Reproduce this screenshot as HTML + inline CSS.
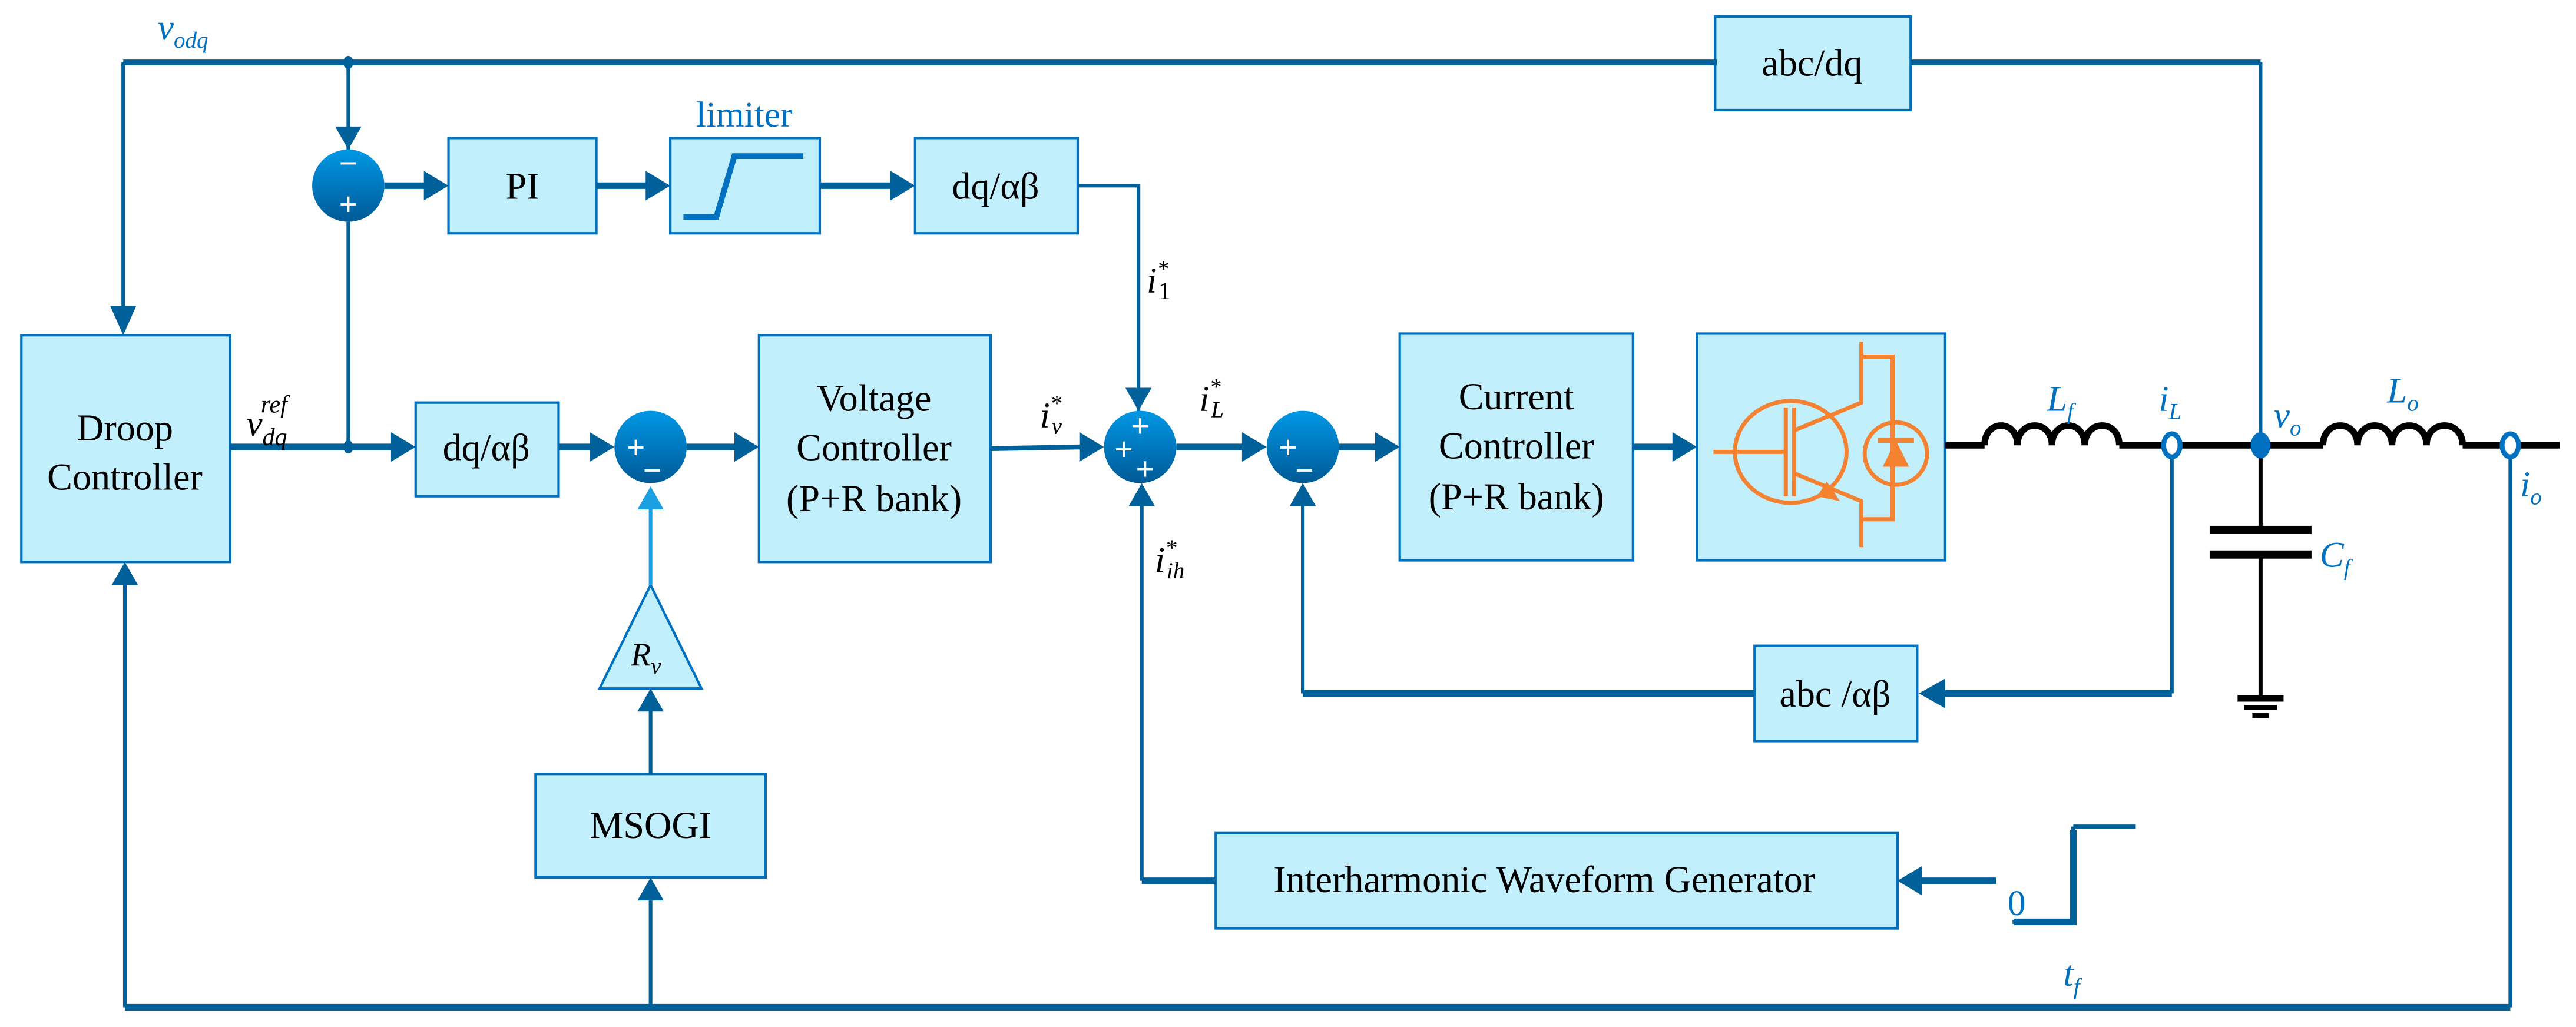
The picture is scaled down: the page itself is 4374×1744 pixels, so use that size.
<!DOCTYPE html>
<html><head><meta charset="utf-8"><style>
html,body{margin:0;padding:0;background:#fff;}
svg{display:block;}
text{font-family:"Liberation Serif",serif;}
</style></head><body>
<svg width="4374" height="1744" viewBox="0 0 1568 625" preserveAspectRatio="none" xmlns="http://www.w3.org/2000/svg">
<defs>
<linearGradient id="g" x1="0" y1="0" x2="0" y2="1"><stop offset="0" stop-color="#0098e6"/><stop offset="1" stop-color="#005a96"/></linearGradient>
</defs>
<g fill="#c1effc" stroke="#0070c0" stroke-width="1.5">
<rect x="13" y="204" width="127" height="138"/>
<rect x="273" y="84" width="90" height="58"/>
<rect x="408" y="84" width="91" height="58"/>
<rect x="557" y="84" width="99" height="58"/>
<rect x="1044" y="10" width="119" height="57"/>
<rect x="253" y="245" width="87" height="57"/>
<rect x="462" y="204" width="141" height="138"/>
<rect x="852" y="203" width="142" height="138"/>
<rect x="1033" y="203" width="151" height="138"/>
<rect x="1068" y="393" width="99" height="58"/>
<rect x="740" y="507" width="415" height="58"/>
<rect x="326" y="471" width="140" height="63"/>
<polygon points="365,419 427,419 396,356"/>
</g>
<path d="M416,132 H436 L447,95 H489" fill="none" stroke="#0070c0" stroke-width="3.5"/>
<g fill="none" stroke="#00619a">
<path d="M75,38 H1045 M1163,38 H1376" stroke-width="3.5"/>
<path d="M1376,38 V271 M75,38 V190 M212,38 V93 M656,113 H693 V252 M212,135 V272" stroke-width="2.2"/>
<path d="M234,113 H260 M363,113 H395 M499,113 H544 M140,272 H240 M340,272 H361 M418,272 H449 M716,272 H758 M815,272 H839 M994,272 H1020" stroke-width="4"/>
<path d="M603,273 L659,272" stroke-width="3"/>
<path d="M1322,277 V422 M793,422 V308 M695,536 V308 M396,471 V432 M1528,277 V613 M76,613 V356 M396,613 V548" stroke-width="2.2"/>
<path d="M1322,422 H1182 M1068,422 H793 M695,536 H740 M1215,536 H1170 M76,613 H1528" stroke-width="4"/>
</g>
<path d="M396,356 V310" stroke="#1ba1e2" stroke-width="2.2"/>
<g fill="#00619a">
<polygon points="67,186 75,204 83,186"/>
<polygon points="204,77 212,91 220,77"/>
<polygon points="258,104 273,113 258,122"/>
<polygon points="393,104 408,113 393,122"/>
<polygon points="542,104 557,113 542,122"/>
<polygon points="685,236 693,250 701,236"/>
<polygon points="238,263 253,272 238,281"/>
<polygon points="359,263 374,272 359,281"/>
<polygon points="447,263 462,272 447,281"/>
<polygon points="657,263 672,272 657,281"/>
<polygon points="756,263 771,272 756,281"/>
<polygon points="837,263 852,272 837,281"/>
<polygon points="1018,263 1033,272 1018,281"/>
<polygon points="1184,413 1168,422 1184,431"/>
<polygon points="785,308 793,294 801,308"/>
<polygon points="687,308 695,294 703,308"/>
<polygon points="1170,527 1155,536 1170,545"/>
<polygon points="388,433 396,419 404,433"/>
<polygon points="68,356 76,342 84,356"/>
<polygon points="388,548 396,534 404,548"/>
<ellipse cx="212" cy="38" rx="3" ry="4"/>
<ellipse cx="212" cy="272" rx="3" ry="4"/>
</g>
<polygon points="388,310 396,296 404,310" fill="#1ba1e2"/>
<g fill="url(#g)">
<circle cx="212" cy="113" r="22"/>
<circle cx="396" cy="272" r="22"/>
<circle cx="694" cy="272" r="22"/>
<circle cx="793" cy="272" r="22"/>
</g>
<g fill="#fff" font-family="Liberation Sans,sans-serif" font-size="20" font-weight="bold" text-anchor="middle">
<text x="212" y="106">−</text><text x="212" y="131">+</text>
<text x="387" y="279">+</text><text x="397" y="293">−</text>
<text x="694" y="266">+</text><text x="684" y="280">+</text><text x="697" y="292">+</text>
<text x="784" y="279">+</text><text x="794" y="293">−</text>
</g>
<g fill="none" stroke="#000" stroke-width="4">
<path d="M1184,271 H1208 M1290,271 H1414 M1499,271 H1558"/>
<path d="M1208,271 C1208,255 1228,255 1228,271 C1228,255 1249,255 1249,271 C1249,255 1269,255 1269,271 C1269,255 1290,255 1290,271"/>
<path d="M1414,271 C1414,255 1435,255 1435,271 C1435,255 1456,255 1456,271 C1456,255 1477,255 1477,271 C1477,255 1499,255 1499,271"/>
<path d="M1376,271 V321 M1376,339 V423" stroke-width="2.5"/>
</g>
<g fill="#000">
<rect x="1345" y="320" width="62" height="5"/>
<rect x="1345" y="335" width="62" height="5"/>
<rect x="1362" y="423" width="28" height="4"/>
<rect x="1366" y="429" width="20" height="3"/>
<rect x="1371" y="434" width="10" height="3"/>
</g>
<ellipse cx="1322" cy="271" rx="5" ry="7" fill="#fff" stroke="#0070c0" stroke-width="3"/>
<ellipse cx="1528" cy="271" rx="5" ry="7" fill="#fff" stroke="#0070c0" stroke-width="3"/>
<ellipse cx="1376" cy="271" rx="6" ry="8" fill="#0070c0"/>
<g fill="none" stroke="#f58231" stroke-width="2.5">
<ellipse cx="1090" cy="275" rx="34" ry="31"/>
<ellipse cx="1154" cy="276" rx="19" ry="19"/>
<path d="M1043,275 H1086 M1087,248 V302 M1092,248 V302 M1092,262 L1133,245 V208 M1092,288 L1133,305 V333 M1133,217 H1152 V296 M1133,316 H1152 V296"/>
<path d="M1143,268 H1165" stroke-width="3"/>
</g>
<polygon points="1154,268 1146,284 1162,284" fill="#f58231"/>
<polygon points="1112,293 1120,305 1106,302" fill="#f58231"/>
<path d="M1262,503 H1300 M1262,503 V561 H1225" fill="none" stroke="#00619a" stroke-width="2.5"/>
<path d="M1262,505 V561 H1226" fill="none" stroke="#00619a" stroke-width="4"/>
<g font-size="23" fill="#000" text-anchor="middle">
<text x="76" y="268">Droop</text><text x="76" y="298">Controller</text>
<text x="318" y="121">PI</text>
<text x="606" y="121">dq/αβ</text>
<text x="296" y="280">dq/αβ</text>
<text x="1103" y="46">abc/dq</text>
<text x="532" y="250">Voltage</text><text x="532" y="280">Controller</text><text x="532" y="311">(P+R bank)</text>
<text x="923" y="249">Current</text><text x="923" y="279">Controller</text><text x="923" y="310">(P+R bank)</text>
<text x="1117" y="430">abc /αβ</text>
<text x="940" y="543">Interharmonic Waveform Generator</text>
<text x="396" y="510">MSOGI</text>
</g>
<g font-style="italic" font-size="22" fill="#000">
<text x="384" y="405" font-size="20">R<tspan font-size="14" dy="5">v</tspan></text>
<text x="150" y="265">v<tspan font-size="15" dy="6">dq</tspan><tspan font-size="15" dx="-16" dy="-20">ref</tspan></text>
<text x="698" y="178">i<tspan font-size="14" dy="-10">*</tspan><tspan font-size="15" dx="-6" dy="14" font-style="normal">1</tspan></text>
<text x="633" y="260">i<tspan font-size="14" dy="-10">*</tspan><tspan font-size="14" dx="-6" dy="14">v</tspan></text>
<text x="730" y="250">i<tspan font-size="14" dy="-10">*</tspan><tspan font-size="14" dx="-6" dy="14">L</tspan></text>
<text x="703" y="348">i<tspan font-size="14" dy="-10">*</tspan><tspan font-size="14" dx="-6" dy="14">ih</tspan></text>
</g>
<g font-style="italic" font-size="22" fill="#0070c0">
<text x="96" y="24">v<tspan font-size="14" dy="5">odq</tspan></text>
<text x="453" y="77" font-style="normal" text-anchor="middle">limiter</text>
<text x="1246" y="250">L<tspan font-size="14" dy="5">f</tspan></text>
<text x="1314" y="250">i<tspan font-size="14" dy="5">L</tspan></text>
<text x="1384" y="260">v<tspan font-size="14" dy="5">o</tspan></text>
<text x="1453" y="245">L<tspan font-size="14" dy="5">o</tspan></text>
<text x="1534" y="302">i<tspan font-size="14" dy="5">o</tspan></text>
<text x="1412" y="345">C<tspan font-size="14" dy="5">f</tspan></text>
<text x="1222" y="557" font-style="normal">0</text>
<text x="1256" y="600">t<tspan font-size="14" dy="5">f</tspan></text>
</g>
</svg>
</body></html>
